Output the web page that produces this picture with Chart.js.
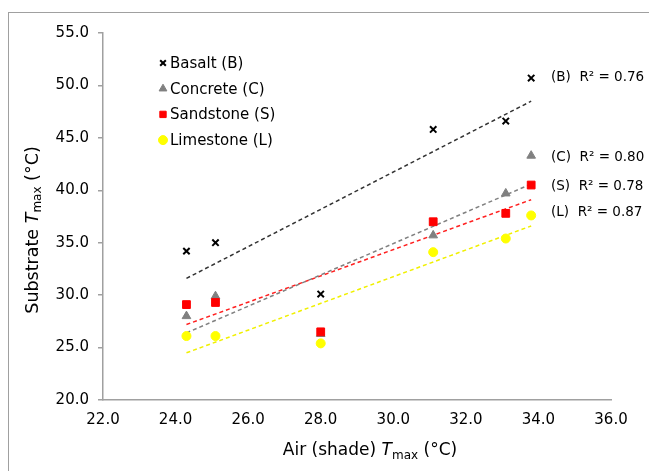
<!DOCTYPE html>
<html>
<head>
<meta charset="utf-8">
<script src="https://cdn.jsdelivr.net/npm/chart.js@4"></script>
<style>
  body { margin: 0; background: #fff; }
  #wrap { position: relative; width: 649px; height: 471px; overflow: hidden; }
  #frame { position: absolute; left: 8px; top: 12px; width: 700px; height: 500px;
           border-left: 1px solid #a0a0a0; border-top: 1px solid #a0a0a0; }
  canvas { position: absolute; left: 0; top: 0; }
</style>
</head>
<body>
<div id="wrap">
  <div id="frame"></div>
  <canvas id="chart" width="649" height="471"></canvas>
</div>
<script>
// valores
const airTemp = [24.3, 25.1, 28.0, 31.1, 33.1, 33.8];
const basalt = [34.2, 35.0, 30.1, 45.8, 46.6, 50.7];
const concrete = [28.0, 29.9, 26.3, 35.7, 39.7, 43.3];
const sandstone = [29.1, 29.3, 26.5, 37.0, 37.8, 40.5];
const limestone = [26.1, 26.1, 25.4, 34.1, 35.4, 37.6];

// linhas de tendência (pontas)
const trendX = [24.3, 33.8];
const trendBasalt = [31.6, 48.5];
const trendConcrete = [26.4, 40.6];
const trendSandstone = [27.2, 39.1];
const trendLimestone = [24.5, 36.6];

const r2Labels = ['(B)  R² = 0.76', '(C)  R² = 0.80', '(S)  R² = 0.78', '(L)  R² = 0.87'];
const r2Y = [50.8, 43.1, 40.4, 37.9];

const series = [
  { label: 'Basalt (B)', data: basalt, style: 'crossRot', color: '#000000', radius: 4.5, border: 2 },
  { label: 'Concrete (C)', data: concrete, style: 'triangle', color: '#808080', radius: 5, border: 1 },
  { label: 'Sandstone (S)', data: sandstone, style: 'rect', color: '#ff0000', radius: 5.5, border: 1 },
  { label: 'Limestone (L)', data: limestone, style: 'circle', color: '#ffff00', radius: 4.5, border: 1 }
];
const trends = [
  { data: trendBasalt, color: '#333333' },
  { data: trendConcrete, color: '#808080' },
  { data: trendSandstone, color: '#ff2020' },
  { data: trendLimestone, color: '#f0f000' }
];

const toPoints = (xs, ys) => xs.map((x, i) => ({ x: x, y: ys[i] }));

const datasets = [];
series.forEach((s, i) => {
  datasets.push({
    type: 'scatter',
    label: s.label,
    data: toPoints(airTemp, s.data),
    pointStyle: s.style,
    pointRadius: s.radius,
    pointBackgroundColor: s.color,
    pointBorderColor: s.color,
    pointBorderWidth: s.border,
    order: 4 - i
  });
});
trends.forEach((t) => {
  datasets.push({
    type: 'line',
    data: toPoints(trendX, t.data),
    borderColor: t.color,
    borderWidth: 1.5,
    borderDash: [4, 3],
    pointRadius: 0,
    fill: false,
    order: 10
  });
});

const FONT = '"DejaVu Sans", Verdana, sans-serif';

// desenha texto com T itálico e subscrito "max"
function drawTitle(ctx, pre, post, size) {
  const parts = [
    { t: pre, f: size + 'px ' + FONT, dy: 0 },
    { t: 'T', f: 'italic ' + size + 'px ' + FONT, dy: 0 },
    { t: 'max', f: Math.round(size * 0.68) + 'px ' + FONT, dy: size * 0.3 },
    { t: post, f: size + 'px ' + FONT, dy: 0 }
  ];
  let total = 0;
  parts.forEach(p => { ctx.font = p.f; p.w = ctx.measureText(p.t).width; total += p.w; });
  let x = -total / 2;
  ctx.textBaseline = 'middle';
  ctx.textAlign = 'left';
  parts.forEach(p => { ctx.font = p.f; ctx.fillText(p.t, x, p.dy); x += p.w; });
}

const overlay = {
  id: 'overlay',
  afterDraw(chart) {
    const ctx = chart.ctx;
    const yScale = chart.scales.y;
    ctx.save();
    ctx.fillStyle = '#000';

    // legenda dentro do gráfico
    series.forEach((s, i) => {
      const y = 63 + i * 25.7;
      ctx.strokeStyle = s.color;
      ctx.fillStyle = s.color;
      ctx.lineWidth = s.border;
      Chart.helpers.drawPoint(ctx, { pointStyle: s.style, radius: s.style === 'crossRot' ? 4 : 4.5, rotation: 0, borderWidth: s.border }, 163, y);
      ctx.fillStyle = '#000';
      ctx.font = '15px ' + FONT;
      ctx.textAlign = 'left';
      ctx.textBaseline = 'middle';
      ctx.fillText(s.label, 170, y + 1);
    });

    // rótulos R²
    ctx.font = '13.5px ' + FONT;
    r2Labels.forEach((t, i) => {
      ctx.fillText(t, 551, yScale.getPixelForValue(r2Y[i]));
    });

    // títulos dos eixos
    ctx.save();
    ctx.translate(370, 451);
    drawTitle(ctx, 'Air (shade) ', ' (°C)', 17);
    ctx.restore();

    ctx.save();
    ctx.translate(33, 230);
    ctx.rotate(-Math.PI / 2);
    drawTitle(ctx, 'Substrate ', ' (°C)', 17.5);
    ctx.restore();

    ctx.restore();
  }
};

new Chart(document.getElementById('chart'), {
  data: { datasets: datasets },
  options: {
    responsive: false,
    animation: false,
    layout: { padding: { left: 0, top: 33, right: 38, bottom: 0 } },
    plugins: { legend: { display: false }, tooltip: { enabled: false } },
    scales: {
      x: {
        type: 'linear',
        min: 22, max: 36,
        afterFit: (s) => { s.height = 71; },
        grid: { drawOnChartArea: false, drawTicks: false },
        border: { color: '#a0a0a0', width: 1.5 },
        ticks: { stepSize: 2, padding: 11, color: '#000', font: { family: FONT, size: 15 },
                 callback: (v) => v.toFixed(1) }
      },
      y: {
        type: 'linear',
        min: 20, max: 55,
        afterFit: (s) => { s.width = 103; },
        grid: { drawOnChartArea: false, tickLength: 5, color: '#a0a0a0', lineWidth: 1.5 },
        border: { color: '#a0a0a0', width: 1.5 },
        ticks: { stepSize: 5, padding: 9, color: '#000', font: { family: FONT, size: 15 },
                 callback: (v) => v.toFixed(1) }
      }
    }
  },
  plugins: [overlay]
});
</script>
</body>
</html>
